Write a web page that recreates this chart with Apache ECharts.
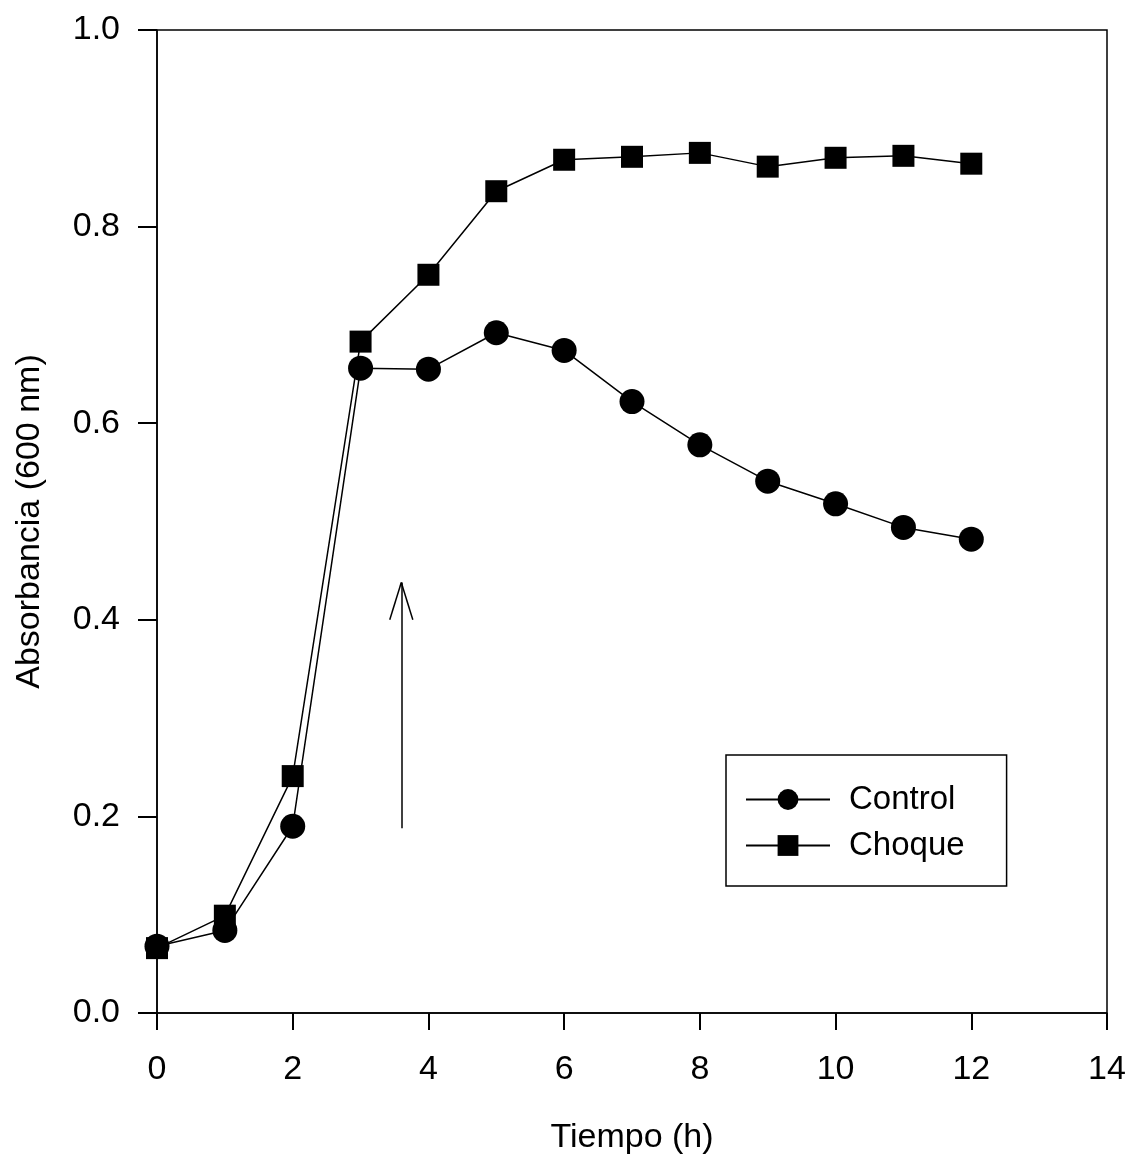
<!DOCTYPE html>
<html>
<head>
<meta charset="utf-8">
<script src="https://cdn.jsdelivr.net/npm/echarts@6/dist/echarts.min.js"></script>
<style>
  html, body { margin: 0; padding: 0; background: #fff; }
  #chart { width: 1133px; height: 1162px; }
</style>
</head>
<body>
<div id="chart"></div>
<script>
// tiempo (h)
var tiempo = [0, 1, 2, 3, 4, 5, 6, 7, 8, 9, 10, 11, 12];
// absorbancia a 600 nm
var control = [0.068, 0.084, 0.19, 0.656, 0.655, 0.692, 0.674, 0.622, 0.578, 0.541, 0.518, 0.494, 0.482];
var choque = [0.066, 0.099, 0.241, 0.683, 0.751, 0.836, 0.868, 0.871, 0.875, 0.861, 0.870, 0.872, 0.864];
// flecha: x, y inicial, y final
var flecha = [3.6, 0.188, 0.438];

var negro = '#000';
var fuente = 'Liberation Sans, Arial, sans-serif';

function pares(ys) {
    return tiempo.map(function (t, i) { return [t, ys[i]]; });
}

var mcharts = echarts.init(document.getElementById('chart'));

var option = {
    animation: false,
    textStyle: { fontFamily: fuente, color: negro },
    grid: {
        left: 157, right: 26, top: 30, bottom: 149,
        show: true, borderColor: negro, borderWidth: 1.5,
        containLabel: false
    },
    legend: {
        orient: 'vertical',
        left: 726, top: 755,
        padding: [28, 42, 24, 19],
        itemGap: 13,
        itemWidth: 84, itemHeight: 26,
        borderColor: negro, borderWidth: 1.5,
        textStyle: { fontSize: 33, color: negro, fontFamily: fuente, padding: [0, 0, 0, 14] },
        data: ['Control', 'Choque']
    },
    xAxis: {
        type: 'value',
        min: 0, max: 14, interval: 2,
        name: 'Tiempo (h)',
        nameLocation: 'center',
        nameGap: 108,
        nameTextStyle: { fontSize: 34, color: negro },
        axisLine: { onZero: false, lineStyle: { color: negro, width: 1.5 } },
        axisTick: { show: true, inside: false, length: 17, lineStyle: { color: negro, width: 2 } },
        axisLabel: { fontSize: 34, color: negro, margin: 40 },
        splitLine: { show: false }
    },
    yAxis: {
        type: 'value',
        min: 0, max: 1, interval: 0.2,
        name: 'Absorbancia (600 nm)',
        nameLocation: 'center',
        nameGap: 110,
        nameTextStyle: { fontSize: 34, color: negro },
        axisLine: { onZero: false, lineStyle: { color: negro, width: 1.5 } },
        axisTick: { show: true, inside: false, length: 19, lineStyle: { color: negro, width: 2 } },
        axisLabel: {
            fontSize: 34, color: negro, margin: 37,
            formatter: function (v) { return v.toFixed(1); }
        },
        splitLine: { show: false }
    },
    series: [
        {
            name: 'Control',
            type: 'line',
            data: pares(control),
            symbol: 'circle',
            symbolSize: 25,
            itemStyle: { color: negro },
            lineStyle: { color: negro, width: 1.5 },
            z: 3
        },
        {
            name: 'Choque',
            type: 'line',
            data: pares(choque),
            symbol: 'rect',
            symbolSize: 22,
            itemStyle: { color: negro },
            lineStyle: { color: negro, width: 1.5 },
            z: 2,
            markLine: {
                silent: true,
                symbol: ['none', 'none'],
                label: { show: false },
                lineStyle: { color: negro, width: 1.5, type: 'solid' },
                data: [
                    [{ coord: [flecha[0], flecha[1]] }, { coord: [flecha[0], flecha[2]] }],
                    [{ coord: [flecha[0] - 0.17, flecha[2] - 0.038] }, { coord: [flecha[0], flecha[2]] }],
                    [{ coord: [flecha[0] + 0.17, flecha[2] - 0.038] }, { coord: [flecha[0], flecha[2]] }]
                ]
            }
        }
    ]
};

mcharts.setOption(option, true);
</script>
</body>
</html>
